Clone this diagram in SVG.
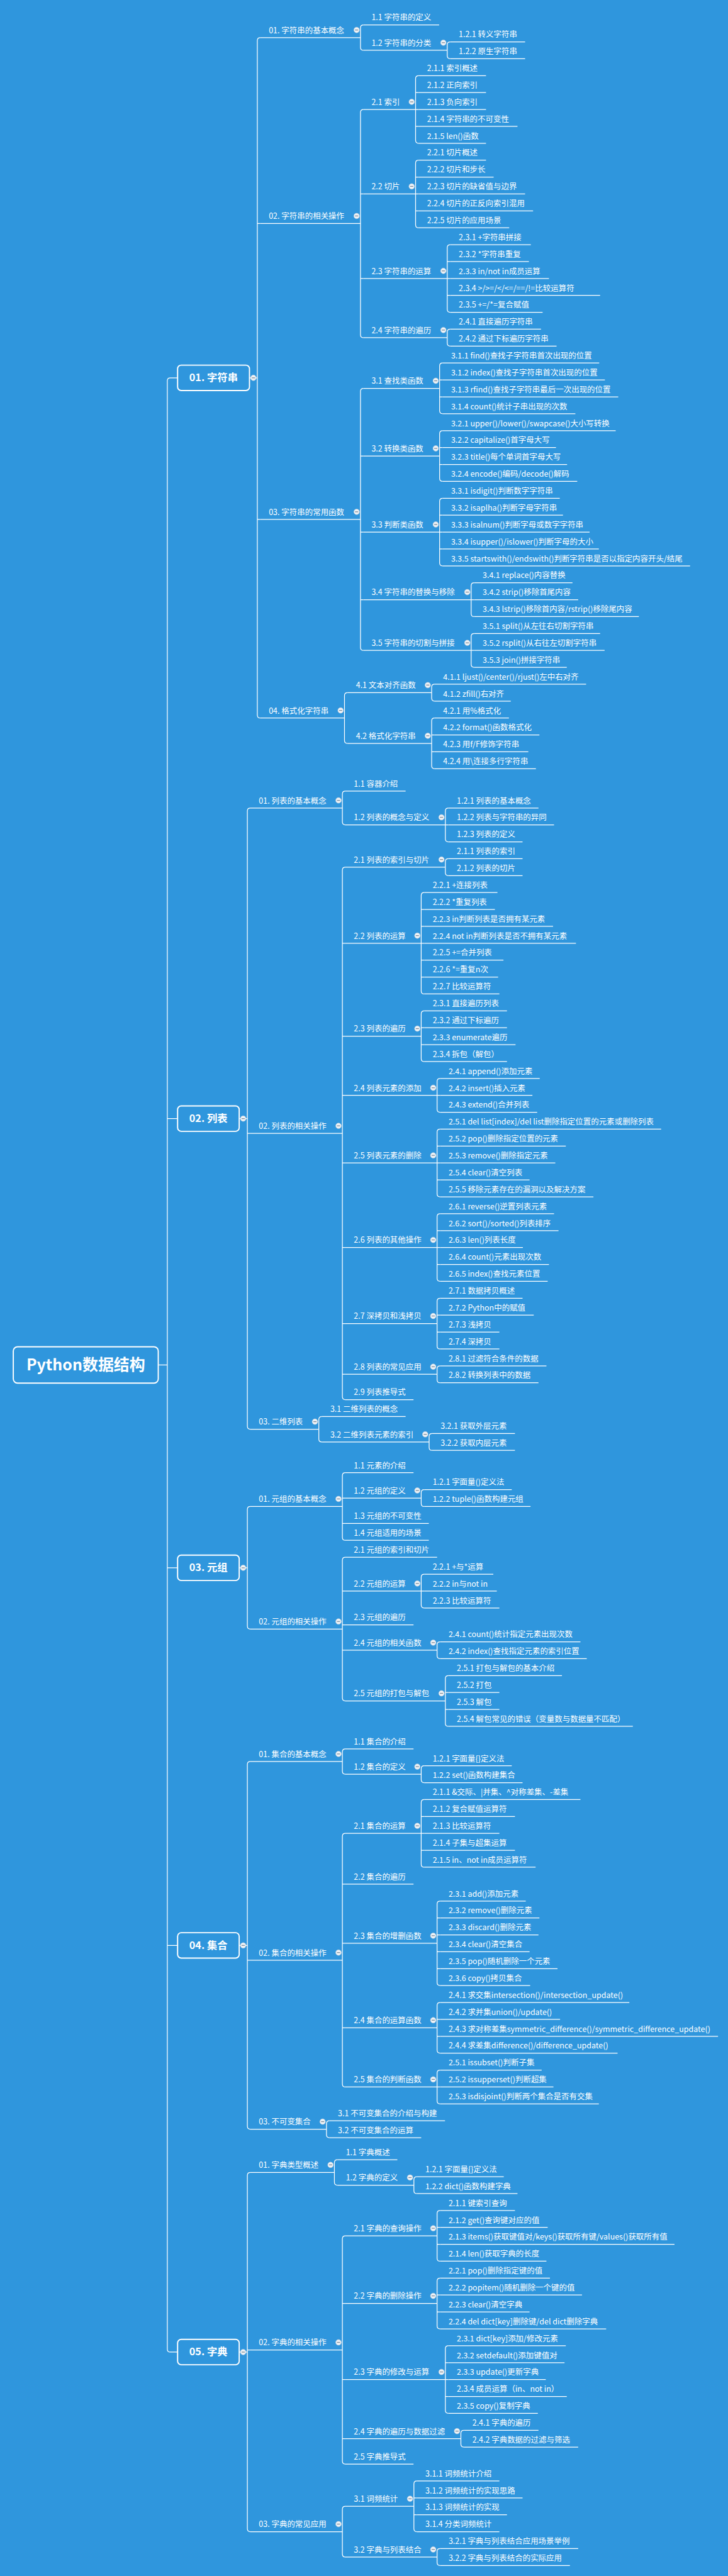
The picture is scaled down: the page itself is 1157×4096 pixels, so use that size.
<svg xmlns="http://www.w3.org/2000/svg" xmlns:xlink="http://www.w3.org/1999/xlink" width="1157" height="4096" viewBox="0 0 1157 4096">
<style>
.t{font-family:"Noto Sans CJK SC","Noto Sans",sans-serif;font-size:13px;fill:#fff}
.b{font-family:"Noto Sans CJK SC","Noto Sans",sans-serif;font-size:17px;font-weight:bold;fill:#fff;text-anchor:middle}
.r{font-family:"Noto Sans CJK SC","Noto Sans",sans-serif;font-size:26px;font-weight:bold;fill:#fff;text-anchor:middle}
.u{stroke:#fff;stroke-width:1.3;fill:none}
.bx{stroke:#fff;stroke-width:2;fill:#2f96dd}
</style>
<defs>
<g id="m"><circle r="4.6" fill="#eef2f6" stroke="#c5d0db" stroke-width="0.6"/><line x1="-2.6" x2="2.6" y1="0" y2="0" stroke="#7d8a97" stroke-width="1.3"/></g>
</defs>
<rect width="1157" height="4096" fill="#2f96dd"/>
<g transform="scale(0.96)">
<g id="connectors" class="u">
<path d="M294,625.8H282Q277,625.8 277,630.8V3890.8Q277,3895.8 282,3895.8H294M277,1852.8H294M277,2596.8H294M277,3222.2H294M262,2260.8H277"/>
<path d="M413,625.8H426M396,1852.8H409.5M396,2596.8H409.5M396,3222.2H409.5M396,3895.8H409.5"/>
<path d="M431,62.3Q426,62.3 426,67.3V1184.3Q426,1189.3 431,1189.3M426,370.3H431M426,860.3H431"/>
<path d="M601.8,41.3Q596.8,41.3 596.8,46.3V78.3Q596.8,83.3 601.8,83.3"/>
<path d="M745.4,69.3Q740.4,69.3 740.4,74.3V92.3Q740.4,97.3 745.4,97.3"/>
<path d="M601.8,181.3Q596.8,181.3 596.8,186.3V554.3Q596.8,559.3 601.8,559.3M596.8,321.3H601.8M596.8,461.3H601.8"/>
<path d="M693,125.3Q688,125.3 688,130.3V232.3Q688,237.3 693,237.3M688,153.3H693M688,181.3H693M688,209.3H693"/>
<path d="M693,265.3Q688,265.3 688,270.3V372.3Q688,377.3 693,377.3M688,293.3H693M688,321.3H693M688,349.3H693"/>
<path d="M745.4,405.3Q740.4,405.3 740.4,410.3V512.3Q740.4,517.3 745.4,517.3M740.4,433.3H745.4M740.4,461.3H745.4M740.4,489.3H745.4"/>
<path d="M745.4,545.3Q740.4,545.3 740.4,550.3V568.3Q740.4,573.3 745.4,573.3"/>
<path d="M601.8,643.3Q596.8,643.3 596.8,648.3V1072.3Q596.8,1077.3 601.8,1077.3M596.8,755.3H601.8M596.8,881.3H601.8M596.8,993.3H601.8"/>
<path d="M732.8,601.3Q727.8,601.3 727.8,606.3V680.3Q727.8,685.3 732.8,685.3M727.8,629.3H732.8M727.8,657.3H732.8"/>
<path d="M732.8,713.3Q727.8,713.3 727.8,718.3V792.3Q727.8,797.3 732.8,797.3M727.8,741.3H732.8M727.8,769.3H732.8"/>
<path d="M732.8,825.3Q727.8,825.3 727.8,830.3V932.3Q727.8,937.3 732.8,937.3M727.8,853.3H732.8M727.8,881.3H732.8M727.8,909.3H732.8"/>
<path d="M785,965.3Q780,965.3 780,970.3V1016.3Q780,1021.3 785,1021.3M780,993.3H785"/>
<path d="M785,1049.3Q780,1049.3 780,1054.3V1100.3Q780,1105.3 785,1105.3M780,1077.3H785"/>
<path d="M575.3,1147.3Q570.3,1147.3 570.3,1152.3V1226.3Q570.3,1231.3 575.3,1231.3"/>
<path d="M719.6,1133.3Q714.6,1133.3 714.6,1138.3V1156.3Q714.6,1161.3 719.6,1161.3"/>
<path d="M719.6,1189.3Q714.6,1189.3 714.6,1194.3V1268.3Q714.6,1273.3 719.6,1273.3M714.6,1217.3H719.6M714.6,1245.3H719.6"/>
<path d="M414.5,1338.3Q409.5,1338.3 409.5,1343.3V2362.3Q409.5,2367.3 414.5,2367.3M409.5,1877.3H414.5"/>
<path d="M571.8,1310.3Q566.8,1310.3 566.8,1315.3V1361.3Q566.8,1366.3 571.8,1366.3"/>
<path d="M742.3,1338.3Q737.3,1338.3 737.3,1343.3V1389.3Q737.3,1394.3 742.3,1394.3M737.3,1366.3H742.3"/>
<path d="M571.8,1436.3Q566.8,1436.3 566.8,1441.3V2313.3Q566.8,2318.3 571.8,2318.3M566.8,1562.3H571.8M566.8,1716.3H571.8M566.8,1814.3H571.8M566.8,1926.3H571.8M566.8,2066.3H571.8M566.8,2192.3H571.8M566.8,2276.3H571.8"/>
<path d="M742.3,1422.3Q737.3,1422.3 737.3,1427.3V1445.3Q737.3,1450.3 742.3,1450.3"/>
<path d="M702.3,1478.3Q697.3,1478.3 697.3,1483.3V1641.3Q697.3,1646.3 702.3,1646.3M697.3,1506.3H702.3M697.3,1534.3H702.3M697.3,1562.3H702.3M697.3,1590.3H702.3M697.3,1618.3H702.3"/>
<path d="M702.3,1674.3Q697.3,1674.3 697.3,1679.3V1753.3Q697.3,1758.3 702.3,1758.3M697.3,1702.3H702.3M697.3,1730.3H702.3"/>
<path d="M728.6,1786.3Q723.6,1786.3 723.6,1791.3V1837.3Q723.6,1842.3 728.6,1842.3M723.6,1814.3H728.6"/>
<path d="M728.6,1870.3Q723.6,1870.3 723.6,1875.3V1977.3Q723.6,1982.3 728.6,1982.3M723.6,1898.3H728.6M723.6,1926.3H728.6M723.6,1954.3H728.6"/>
<path d="M728.6,2010.3Q723.6,2010.3 723.6,2015.3V2117.3Q723.6,2122.3 728.6,2122.3M723.6,2038.3H728.6M723.6,2066.3H728.6M723.6,2094.3H728.6"/>
<path d="M728.6,2150.3Q723.6,2150.3 723.6,2155.3V2229.3Q723.6,2234.3 728.6,2234.3M723.6,2178.3H728.6M723.6,2206.3H728.6"/>
<path d="M728.6,2262.3Q723.6,2262.3 723.6,2267.3V2285.3Q723.6,2290.3 728.6,2290.3"/>
<path d="M532.8,2346.3Q527.8,2346.3 527.8,2351.3V2383.3Q527.8,2388.3 532.8,2388.3"/>
<path d="M715.4,2374.3Q710.4,2374.3 710.4,2379.3V2397.3Q710.4,2402.3 715.4,2402.3"/>
<path d="M414.5,2495.3Q409.5,2495.3 409.5,2500.3V2693.3Q409.5,2698.3 414.5,2698.3"/>
<path d="M571.8,2439.3Q566.8,2439.3 566.8,2444.3V2546.3Q566.8,2551.3 571.8,2551.3M566.8,2481.3H571.8M566.8,2523.3H571.8"/>
<path d="M702.3,2467.3Q697.3,2467.3 697.3,2472.3V2490.3Q697.3,2495.3 702.3,2495.3"/>
<path d="M571.8,2579.3Q566.8,2579.3 566.8,2584.3V2812.3Q566.8,2817.3 571.8,2817.3M566.8,2635.3H571.8M566.8,2691.3H571.8M566.8,2733.3H571.8"/>
<path d="M702.3,2607.3Q697.3,2607.3 697.3,2612.3V2658.3Q697.3,2663.3 702.3,2663.3M697.3,2635.3H702.3"/>
<path d="M728.6,2719.3Q723.6,2719.3 723.6,2724.3V2742.3Q723.6,2747.3 728.6,2747.3"/>
<path d="M742.3,2775.3Q737.3,2775.3 737.3,2780.3V2854.3Q737.3,2859.3 742.3,2859.3M737.3,2803.3H742.3M737.3,2831.3H742.3"/>
<path d="M414.5,2917.7Q409.5,2917.7 409.5,2922.7V3521.7Q409.5,3526.7 414.5,3526.7M409.5,3246.7H414.5"/>
<path d="M571.8,2896.7Q566.8,2896.7 566.8,2901.7V2933.7Q566.8,2938.7 571.8,2938.7"/>
<path d="M702.3,2924.7Q697.3,2924.7 697.3,2929.7V2947.7Q697.3,2952.7 702.3,2952.7"/>
<path d="M571.8,3036.7Q566.8,3036.7 566.8,3041.7V3451.7Q566.8,3456.7 571.8,3456.7M566.8,3120.7H571.8M566.8,3218.7H571.8M566.8,3358.7H571.8"/>
<path d="M702.3,2980.7Q697.3,2980.7 697.3,2985.7V3087.7Q697.3,3092.7 702.3,3092.7M697.3,3008.7H702.3M697.3,3036.7H702.3M697.3,3064.7H702.3"/>
<path d="M728.6,3148.7Q723.6,3148.7 723.6,3153.7V3283.7Q723.6,3288.7 728.6,3288.7M723.6,3176.7H728.6M723.6,3204.7H728.6M723.6,3232.7H728.6M723.6,3260.7H728.6"/>
<path d="M728.6,3316.7Q723.6,3316.7 723.6,3321.7V3395.7Q723.6,3400.7 728.6,3400.7M723.6,3344.7H728.6M723.6,3372.7H728.6"/>
<path d="M728.6,3428.7Q723.6,3428.7 723.6,3433.7V3479.7Q723.6,3484.7 728.6,3484.7M723.6,3456.7H728.6"/>
<path d="M545.5,3512.7Q540.5,3512.7 540.5,3517.7V3535.7Q540.5,3540.7 545.5,3540.7"/>
<path d="M414.5,3598.3Q409.5,3598.3 409.5,3603.3V4188.3Q409.5,4193.3 414.5,4193.3M409.5,3892.3H414.5"/>
<path d="M558.6,3577.3Q553.6,3577.3 553.6,3582.3V3614.3Q553.6,3619.3 558.6,3619.3"/>
<path d="M690.2,3605.3Q685.2,3605.3 685.2,3610.3V3628.3Q685.2,3633.3 690.2,3633.3"/>
<path d="M571.8,3703.3Q566.8,3703.3 566.8,3708.3V4076.3Q566.8,4081.3 571.8,4081.3M566.8,3815.3H571.8M566.8,3941.3H571.8M566.8,4039.3H571.8"/>
<path d="M728.6,3661.3Q723.6,3661.3 723.6,3666.3V3740.3Q723.6,3745.3 728.6,3745.3M723.6,3689.3H728.6M723.6,3717.3H728.6"/>
<path d="M728.6,3773.3Q723.6,3773.3 723.6,3778.3V3852.3Q723.6,3857.3 728.6,3857.3M723.6,3801.3H728.6M723.6,3829.3H728.6"/>
<path d="M742.3,3885.3Q737.3,3885.3 737.3,3890.3V3992.3Q737.3,3997.3 742.3,3997.3M737.3,3913.3H742.3M737.3,3941.3H742.3M737.3,3969.3H742.3"/>
<path d="M768,4025.3Q763,4025.3 763,4030.3V4048.3Q763,4053.3 768,4053.3"/>
<path d="M571.8,4151.3Q566.8,4151.3 566.8,4156.3V4230.3Q566.8,4235.3 571.8,4235.3"/>
<path d="M690.2,4109.3Q685.2,4109.3 685.2,4114.3V4188.3Q685.2,4193.3 690.2,4193.3M685.2,4137.3H690.2M685.2,4165.3H690.2"/>
<path d="M728.6,4221.3Q723.6,4221.3 723.6,4226.3V4244.3Q723.6,4249.3 728.6,4249.3"/>
</g>
<g id="root"><rect class="bx" x="22" y="2230.8" width="240" height="60" rx="7"/><text class="r" x="142" y="2270">Python数据结构</text></g>
<g id="s1"><rect class="bx" x="294" y="604.8" width="119" height="42" rx="6"/><text class="b" x="353.5" y="631.5">01. 字符串</text><use xlink:href="#m" x="419.5" y="625.8"/></g>
<g id="s2"><rect class="bx" x="294" y="1831.8" width="102" height="42" rx="6"/><text class="b" x="345" y="1858.5">02. 列表</text><use xlink:href="#m" x="402.6" y="1852.8"/></g>
<g id="s3"><rect class="bx" x="294" y="2575.8" width="102" height="42" rx="6"/><text class="b" x="345" y="2602.5">03. 元组</text><use xlink:href="#m" x="402.6" y="2596.8"/></g>
<g id="s4"><rect class="bx" x="294" y="3201.2" width="102" height="42" rx="6"/><text class="b" x="345" y="3227.9">04. 集合</text><use xlink:href="#m" x="402.6" y="3222.2"/></g>
<g id="s5"><rect class="bx" x="294" y="3874.8" width="102" height="42" rx="6"/><text class="b" x="345" y="3901.5">05. 字典</text><use xlink:href="#m" x="402.6" y="3895.8"/></g>

<g id="str-01"><text class="t" x="445" y="54.8">01. 字符串的基本概念</text><path class="u" d="M431,62.3H596.8"/><use xlink:href="#m" x="590.4" y="49.7"/></g>
<g id="str-1-1"><text class="t" x="615" y="33.8">1.1 字符串的定义</text><path class="u" d="M601.8,41.3H727"/></g>
<g id="str-1-2"><text class="t" x="615" y="75.8">1.2 字符串的分类</text><path class="u" d="M601.8,83.3H740.4"/><use xlink:href="#m" x="734" y="70.7"/></g>
<g id="str-1-2-1"><text class="t" x="759.4" y="61.8">1.2.1 转义字符串</text><path class="u" d="M745.4,69.3H869.3"/></g>
<g id="str-1-2-2"><text class="t" x="759.4" y="89.8">1.2.2 原生字符串</text><path class="u" d="M745.4,97.3H869.3"/></g>

<g id="str-02"><text class="t" x="445" y="362.8">02. 字符串的相关操作</text><path class="u" d="M431,370.3H596.8"/><use xlink:href="#m" x="590.4" y="357.7"/></g>
<g id="str-2-1"><text class="t" x="615" y="173.8">2.1 索引</text><path class="u" d="M601.8,181.3H688"/><use xlink:href="#m" x="681.6" y="168.7"/></g>
<g id="str-2-1-1"><text class="t" x="707" y="117.8">2.1.1 索引概述</text><path class="u" d="M693,125.3H804.6"/></g>
<g id="str-2-1-2"><text class="t" x="707" y="145.8">2.1.2 正向索引</text><path class="u" d="M693,153.3H804.6"/></g>
<g id="str-2-1-3"><text class="t" x="707" y="173.8">2.1.3 负向索引</text><path class="u" d="M693,181.3H804.6"/></g>
<g id="str-2-1-4"><text class="t" x="707" y="201.8">2.1.4 字符串的不可变性</text><path class="u" d="M693,209.3H856.7"/></g>
<g id="str-2-1-5"><text class="t" x="707" y="229.8">2.1.5 len()函数</text><path class="u" d="M693,237.3H804.6"/></g>
<g id="str-2-2"><text class="t" x="615" y="313.8">2.2 切片</text><path class="u" d="M601.8,321.3H688"/><use xlink:href="#m" x="681.6" y="308.7"/></g>
<g id="str-2-2-1"><text class="t" x="707" y="257.8">2.2.1 切片概述</text><path class="u" d="M693,265.3H804.6"/></g>
<g id="str-2-2-2"><text class="t" x="707" y="285.8">2.2.2 切片和步长</text><path class="u" d="M693,293.3H817.2"/></g>
<g id="str-2-2-3"><text class="t" x="707" y="313.8">2.2.3 切片的缺省值与边界</text><path class="u" d="M693,321.3H869.3"/></g>
<g id="str-2-2-4"><text class="t" x="707" y="341.8">2.2.4 切片的正反向索引混用</text><path class="u" d="M693,349.3H882.5"/></g>
<g id="str-2-2-5"><text class="t" x="707" y="369.8">2.2.5 切片的应用场景</text><path class="u" d="M693,377.3H843"/></g>
<g id="str-2-3"><text class="t" x="615" y="453.8">2.3 字符串的运算</text><path class="u" d="M601.8,461.3H740.4"/><use xlink:href="#m" x="734" y="448.7"/></g>
<g id="str-2-3-1"><text class="t" x="759.4" y="397.8">2.3.1 +字符串拼接</text><path class="u" d="M745.4,405.3H878.8"/></g>
<g id="str-2-3-2"><text class="t" x="759.4" y="425.8">2.3.2 *字符串重复</text><path class="u" d="M745.4,433.3H875.6"/></g>
<g id="str-2-3-3"><text class="t" x="759.4" y="453.8">2.3.3 in/not in成员运算</text><path class="u" d="M745.4,461.3H908.8"/></g>
<g id="str-2-3-4"><text class="t" x="759.4" y="481.8">2.3.4 &gt;/&gt;=/&lt;/&lt;=/==/!=比较运算符</text><path class="u" d="M745.4,489.3H993.5"/></g>
<g id="str-2-3-5"><text class="t" x="759.4" y="509.8">2.3.5 +=/*=复合赋值</text><path class="u" d="M745.4,517.3H898.3"/></g>
<g id="str-2-4"><text class="t" x="615" y="551.8">2.4 字符串的遍历</text><path class="u" d="M601.8,559.3H740.4"/><use xlink:href="#m" x="734" y="546.7"/></g>
<g id="str-2-4-1"><text class="t" x="759.4" y="537.8">2.4.1 直接遍历字符串</text><path class="u" d="M745.4,545.3H895.6"/></g>
<g id="str-2-4-2"><text class="t" x="759.4" y="565.8">2.4.2 通过下标遍历字符串</text><path class="u" d="M745.4,573.3H921.4"/></g>

<g id="str-03"><text class="t" x="445" y="852.8">03. 字符串的常用函数</text><path class="u" d="M431,860.3H596.8"/><use xlink:href="#m" x="590.4" y="847.7"/></g>
<g id="str-3-1"><text class="t" x="615" y="635.8">3.1 查找类函数</text><path class="u" d="M601.8,643.3H727.8"/><use xlink:href="#m" x="721.4" y="630.7"/></g>
<g id="str-3-1-1"><text class="t" x="746.8" y="593.8">3.1.1 find()查找子字符串首次出现的位置</text><path class="u" d="M732.8,601.3H992"/></g>
<g id="str-3-1-2"><text class="t" x="746.8" y="621.8">3.1.2 index()查找子字符串首次出现的位置</text><path class="u" d="M732.8,629.3H1001.4"/></g>
<g id="str-3-1-3"><text class="t" x="746.8" y="649.8">3.1.3 rfind()查找子字符串最后一次出现的位置</text><path class="u" d="M732.8,657.3H1023.5"/></g>
<g id="str-3-1-4"><text class="t" x="746.8" y="677.8">3.1.4 count()统计子串出现的次数</text><path class="u" d="M732.8,685.3H952.5"/></g>
<g id="str-3-2"><text class="t" x="615" y="747.8">3.2 转换类函数</text><path class="u" d="M601.8,755.3H727.8"/><use xlink:href="#m" x="721.4" y="742.7"/></g>
<g id="str-3-2-1"><text class="t" x="746.8" y="705.8">3.2.1 upper()/lower()/swapcase()大小写转换</text><path class="u" d="M732.8,713.3H1019.3"/></g>
<g id="str-3-2-2"><text class="t" x="746.8" y="733.8">3.2.2 capitalize()首字母大写</text><path class="u" d="M732.8,741.3H920.4"/></g>
<g id="str-3-2-3"><text class="t" x="746.8" y="761.8">3.2.3 title()每个单词首字母大写</text><path class="u" d="M732.8,769.3H938.8"/></g>
<g id="str-3-2-4"><text class="t" x="746.8" y="789.8">3.2.4 encode()编码/decode()解码</text><path class="u" d="M732.8,797.3H955.6"/></g>
<g id="str-3-3"><text class="t" x="615" y="873.8">3.3 判断类函数</text><path class="u" d="M601.8,881.3H727.8"/><use xlink:href="#m" x="721.4" y="868.7"/></g>
<g id="str-3-3-1"><text class="t" x="746.8" y="817.8">3.3.1 isdigit()判断数字字符串</text><path class="u" d="M732.8,825.3H926.7"/></g>
<g id="str-3-3-2"><text class="t" x="746.8" y="845.8">3.3.2 isaplha()判断字母字符串</text><path class="u" d="M732.8,853.3H932"/></g>
<g id="str-3-3-3"><text class="t" x="746.8" y="873.8">3.3.3 isalnum()判断字母或数字字符串</text><path class="u" d="M732.8,881.3H976.1"/></g>
<g id="str-3-3-4"><text class="t" x="746.8" y="901.8">3.3.4 isupper()/islower()判断字母的大小</text><path class="u" d="M732.8,909.3H991.4"/></g>
<g id="str-3-3-5"><text class="t" x="746.8" y="929.8">3.3.5 startswith()/endswith()判断字符串是否以指定内容开头/结尾</text><path class="u" d="M732.8,937.3H1142.4"/></g>
<g id="str-3-4"><text class="t" x="615" y="985.8">3.4 字符串的替换与移除</text><path class="u" d="M601.8,993.3H780"/><use xlink:href="#m" x="773.6" y="980.7"/></g>
<g id="str-3-4-1"><text class="t" x="799" y="957.8">3.4.1 replace()内容替换</text><path class="u" d="M785,965.3H947.7"/></g>
<g id="str-3-4-2"><text class="t" x="799" y="985.8">3.4.2 strip()移除首尾内容</text><path class="u" d="M785,993.3H957.2"/></g>
<g id="str-3-4-3"><text class="t" x="799" y="1013.8">3.4.3 lstrip()移除首内容/rstrip()移除尾内容</text><path class="u" d="M785,1021.3H1057.7"/></g>
<g id="str-3-5"><text class="t" x="615" y="1069.8">3.5 字符串的切割与拼接</text><path class="u" d="M601.8,1077.3H780"/><use xlink:href="#m" x="773.6" y="1064.7"/></g>
<g id="str-3-5-1"><text class="t" x="799" y="1041.8">3.5.1 split()从左往右切割字符串</text><path class="u" d="M785,1049.3H993.5"/></g>
<g id="str-3-5-2"><text class="t" x="799" y="1069.8">3.5.2 rsplit()从右往左切割字符串</text><path class="u" d="M785,1077.3H1000.9"/></g>
<g id="str-3-5-3"><text class="t" x="799" y="1097.8">3.5.3 join()拼接字符串</text><path class="u" d="M785,1105.3H938.3"/></g>

<g id="str-04"><text class="t" x="445" y="1181.8">04. 格式化字符串</text><path class="u" d="M431,1189.3H570.3"/><use xlink:href="#m" x="563.9" y="1176.7"/></g>
<g id="str-4-1"><text class="t" x="589.3" y="1139.8">4.1 文本对齐函数</text><path class="u" d="M575.3,1147.3H714.6"/><use xlink:href="#m" x="708.2" y="1134.7"/></g>
<g id="str-4-1-1"><text class="t" x="733.6" y="1125.8">4.1.1 ljust()/center()/rjust()左中右对齐</text><path class="u" d="M719.6,1133.3H970.3"/></g>
<g id="str-4-1-2"><text class="t" x="733.6" y="1153.8">4.1.2 zfill()右对齐</text><path class="u" d="M719.6,1161.3H845.6"/></g>
<g id="str-4-2"><text class="t" x="589.3" y="1223.8">4.2 格式化字符串</text><path class="u" d="M575.3,1231.3H714.6"/><use xlink:href="#m" x="708.2" y="1218.7"/></g>
<g id="str-4-2-1"><text class="t" x="733.6" y="1181.8">4.2.1 用%格式化</text><path class="u" d="M719.6,1189.3H842.5"/></g>
<g id="str-4-2-2"><text class="t" x="733.6" y="1209.8">4.2.2 format()函数格式化</text><path class="u" d="M719.6,1217.3H893"/></g>
<g id="str-4-2-3"><text class="t" x="733.6" y="1237.8">4.2.3 用f/F修饰字符串</text><path class="u" d="M719.6,1245.3H874.6"/></g>
<g id="str-4-2-4"><text class="t" x="733.6" y="1265.8">4.2.4 用\连接多行字符串</text><path class="u" d="M719.6,1273.3H887.2"/></g>

<g id="lst-01"><text class="t" x="428.5" y="1330.8">01. 列表的基本概念</text><path class="u" d="M414.5,1338.3H566.8"/><use xlink:href="#m" x="560.4" y="1325.7"/></g>
<g id="lst-1-1"><text class="t" x="585.8" y="1302.8">1.1 容器介绍</text><path class="u" d="M571.8,1310.3H671.5"/></g>
<g id="lst-1-2"><text class="t" x="585.8" y="1358.8">1.2 列表的概念与定义</text><path class="u" d="M571.8,1366.3H737.3"/><use xlink:href="#m" x="730.9" y="1353.7"/></g>
<g id="lst-1-2-1"><text class="t" x="756.3" y="1330.8">1.2.1 列表的基本概念</text><path class="u" d="M742.3,1338.3H891.4"/></g>
<g id="lst-1-2-2"><text class="t" x="756.3" y="1358.8">1.2.2 列表与字符串的异同</text><path class="u" d="M742.3,1366.3H917.2"/></g>
<g id="lst-1-2-3"><text class="t" x="756.3" y="1386.8">1.2.3 列表的定义</text><path class="u" d="M742.3,1394.3H865.1"/></g>

<g id="lst-02"><text class="t" x="428.5" y="1869.8">02. 列表的相关操作</text><path class="u" d="M414.5,1877.3H566.8"/><use xlink:href="#m" x="560.4" y="1864.7"/></g>
<g id="lst-2-1"><text class="t" x="585.8" y="1428.8">2.1 列表的索引与切片</text><path class="u" d="M571.8,1436.3H737.3"/><use xlink:href="#m" x="730.9" y="1423.7"/></g>
<g id="lst-2-1-1"><text class="t" x="756.3" y="1414.8">2.1.1 列表的索引</text><path class="u" d="M742.3,1422.3H865.1"/></g>
<g id="lst-2-1-2"><text class="t" x="756.3" y="1442.8">2.1.2 列表的切片</text><path class="u" d="M742.3,1450.3H865.1"/></g>
<g id="lst-2-2"><text class="t" x="585.8" y="1554.8">2.2 列表的运算</text><path class="u" d="M571.8,1562.3H697.3"/><use xlink:href="#m" x="690.9" y="1549.7"/></g>
<g id="lst-2-2-1"><text class="t" x="716.3" y="1470.8">2.2.1 +连接列表</text><path class="u" d="M702.3,1478.3H823.5"/></g>
<g id="lst-2-2-2"><text class="t" x="716.3" y="1498.8">2.2.2 *重复列表</text><path class="u" d="M702.3,1506.3H819.3"/></g>
<g id="lst-2-2-3"><text class="t" x="716.3" y="1526.8">2.2.3 in判断列表是否拥有某元素</text><path class="u" d="M702.3,1534.3H915.6"/></g>
<g id="lst-2-2-4"><text class="t" x="716.3" y="1554.8">2.2.4 not in判断列表是否不拥有某元素</text><path class="u" d="M702.3,1562.3H953.5"/></g>
<g id="lst-2-2-5"><text class="t" x="716.3" y="1582.8">2.2.5 +=合并列表</text><path class="u" d="M702.3,1590.3H833.5"/></g>
<g id="lst-2-2-6"><text class="t" x="716.3" y="1610.8">2.2.6 *=重复n次</text><path class="u" d="M702.3,1618.3H824.6"/></g>
<g id="lst-2-2-7"><text class="t" x="716.3" y="1638.8">2.2.7 比较运算符</text><path class="u" d="M702.3,1646.3H826.7"/></g>
<g id="lst-2-3"><text class="t" x="585.8" y="1708.8">2.3 列表的遍历</text><path class="u" d="M571.8,1716.3H697.3"/><use xlink:href="#m" x="690.9" y="1703.7"/></g>
<g id="lst-2-3-1"><text class="t" x="716.3" y="1666.8">2.3.1 直接遍历列表</text><path class="u" d="M702.3,1674.3H839.3"/></g>
<g id="lst-2-3-2"><text class="t" x="716.3" y="1694.8">2.3.2 通过下标遍历</text><path class="u" d="M702.3,1702.3H839.3"/></g>
<g id="lst-2-3-3"><text class="t" x="716.3" y="1722.8">2.3.3 enumerate遍历</text><path class="u" d="M702.3,1730.3H853.5"/></g>
<g id="lst-2-3-4"><text class="t" x="716.3" y="1750.8">2.3.4 拆包（解包）</text><path class="u" d="M702.3,1758.3H839.3"/></g>
<g id="lst-2-4"><text class="t" x="585.8" y="1806.8">2.4 列表元素的添加</text><path class="u" d="M571.8,1814.3H723.6"/><use xlink:href="#m" x="717.2" y="1801.7"/></g>
<g id="lst-2-4-1"><text class="t" x="742.6" y="1778.8">2.4.1 append()添加元素</text><path class="u" d="M728.6,1786.3H893.5"/></g>
<g id="lst-2-4-2"><text class="t" x="742.6" y="1806.8">2.4.2 insert()插入元素</text><path class="u" d="M728.6,1814.3H881.4"/></g>
<g id="lst-2-4-3"><text class="t" x="742.6" y="1834.8">2.4.3 extend()合并列表</text><path class="u" d="M728.6,1842.3H889.3"/></g>
<g id="lst-2-5"><text class="t" x="585.8" y="1918.8">2.5 列表元素的删除</text><path class="u" d="M571.8,1926.3H723.6"/><use xlink:href="#m" x="717.2" y="1913.7"/></g>
<g id="lst-2-5-1"><text class="t" x="742.6" y="1862.8">2.5.1 del list[index]/del list删除指定位置的元素或删除列表</text><path class="u" d="M728.6,1870.3H1094.5"/></g>
<g id="lst-2-5-2"><text class="t" x="742.6" y="1890.8">2.5.2 pop()删除指定位置的元素</text><path class="u" d="M728.6,1898.3H936.7"/></g>
<g id="lst-2-5-3"><text class="t" x="742.6" y="1918.8">2.5.3 remove()删除指定元素</text><path class="u" d="M728.6,1926.3H919.3"/></g>
<g id="lst-2-5-4"><text class="t" x="742.6" y="1946.8">2.5.4 clear()清空列表</text><path class="u" d="M728.6,1954.3H876.7"/></g>
<g id="lst-2-5-5"><text class="t" x="742.6" y="1974.8">2.5.5 移除元素存在的漏洞以及解决方案</text><path class="u" d="M728.6,1982.3H982.4"/></g>
<g id="lst-2-6"><text class="t" x="585.8" y="2058.8">2.6 列表的其他操作</text><path class="u" d="M571.8,2066.3H723.6"/><use xlink:href="#m" x="717.2" y="2053.7"/></g>
<g id="lst-2-6-1"><text class="t" x="742.6" y="2002.8">2.6.1 reverse()逆置列表元素</text><path class="u" d="M728.6,2010.3H917.2"/></g>
<g id="lst-2-6-2"><text class="t" x="742.6" y="2030.8">2.6.2 sort()/sorted()列表排序</text><path class="u" d="M728.6,2038.3H924.6"/></g>
<g id="lst-2-6-3"><text class="t" x="742.6" y="2058.8">2.6.3 len()列表长度</text><path class="u" d="M728.6,2066.3H865.6"/></g>
<g id="lst-2-6-4"><text class="t" x="742.6" y="2086.8">2.6.4 count()元素出现次数</text><path class="u" d="M728.6,2094.3H908.8"/></g>
<g id="lst-2-6-5"><text class="t" x="742.6" y="2114.8">2.6.5 index()查找元素位置</text><path class="u" d="M728.6,2122.3H906.7"/></g>
<g id="lst-2-7"><text class="t" x="585.8" y="2184.8">2.7 深拷贝和浅拷贝</text><path class="u" d="M571.8,2192.3H723.6"/><use xlink:href="#m" x="717.2" y="2179.7"/></g>
<g id="lst-2-7-1"><text class="t" x="742.6" y="2142.8">2.7.1 数据拷贝概述</text><path class="u" d="M728.6,2150.3H865.1"/></g>
<g id="lst-2-7-2"><text class="t" x="742.6" y="2170.8">2.7.2 Python中的赋值</text><path class="u" d="M728.6,2178.3H883.6"/></g>
<g id="lst-2-7-3"><text class="t" x="742.6" y="2198.8">2.7.3 浅拷贝</text><path class="u" d="M728.6,2206.3H826.7"/></g>
<g id="lst-2-7-4"><text class="t" x="742.6" y="2226.8">2.7.4 深拷贝</text><path class="u" d="M728.6,2234.3H826.7"/></g>
<g id="lst-2-8"><text class="t" x="585.8" y="2268.8">2.8 列表的常见应用</text><path class="u" d="M571.8,2276.3H723.6"/><use xlink:href="#m" x="717.2" y="2263.7"/></g>
<g id="lst-2-8-1"><text class="t" x="742.6" y="2254.8">2.8.1 过滤符合条件的数据</text><path class="u" d="M728.6,2262.3H904.6"/></g>
<g id="lst-2-8-2"><text class="t" x="742.6" y="2282.8">2.8.2 转换列表中的数据</text><path class="u" d="M728.6,2290.3H891.4"/></g>
<g id="lst-2-9"><text class="t" x="585.8" y="2310.8">2.9 列表推导式</text><path class="u" d="M571.8,2318.3H684.6"/></g>

<g id="lst-03"><text class="t" x="428.5" y="2359.8">03. 二维列表</text><path class="u" d="M414.5,2367.3H527.8"/><use xlink:href="#m" x="521.4" y="2354.7"/></g>
<g id="lst-3-1"><text class="t" x="546.8" y="2338.8">3.1 二维列表的概念</text><path class="u" d="M532.8,2346.3H671.5"/></g>
<g id="lst-3-2"><text class="t" x="546.8" y="2380.8">3.2 二维列表元素的索引</text><path class="u" d="M532.8,2388.3H710.4"/><use xlink:href="#m" x="704" y="2375.7"/></g>
<g id="lst-3-2-1"><text class="t" x="729.4" y="2366.8">3.2.1 获取外层元素</text><path class="u" d="M715.4,2374.3H852.5"/></g>
<g id="lst-3-2-2"><text class="t" x="729.4" y="2394.8">3.2.2 获取内层元素</text><path class="u" d="M715.4,2402.3H852.5"/></g>

<g id="tup-01"><text class="t" x="428.5" y="2487.8">01. 元组的基本概念</text><path class="u" d="M414.5,2495.3H566.8"/><use xlink:href="#m" x="560.4" y="2482.7"/></g>
<g id="tup-1-1"><text class="t" x="585.8" y="2431.8">1.1 元素的介绍</text><path class="u" d="M571.8,2439.3H684.6"/></g>
<g id="tup-1-2"><text class="t" x="585.8" y="2473.8">1.2 元组的定义</text><path class="u" d="M571.8,2481.3H697.3"/><use xlink:href="#m" x="690.9" y="2468.7"/></g>
<g id="tup-1-2-1"><text class="t" x="716.3" y="2459.8">1.2.1 字面量()定义法</text><path class="u" d="M702.3,2467.3H847.2"/></g>
<g id="tup-1-2-2"><text class="t" x="716.3" y="2487.8">1.2.2 tuple()函数构建元组</text><path class="u" d="M702.3,2495.3H878.3"/></g>
<g id="tup-1-3"><text class="t" x="585.8" y="2515.8">1.3 元组的不可变性</text><path class="u" d="M571.8,2523.3H709.9"/></g>
<g id="tup-1-4"><text class="t" x="585.8" y="2543.8">1.4 元组适用的场景</text><path class="u" d="M571.8,2551.3H709.9"/></g>
<g id="tup-02"><text class="t" x="428.5" y="2690.8">02. 元组的相关操作</text><path class="u" d="M414.5,2698.3H566.8"/><use xlink:href="#m" x="560.4" y="2685.7"/></g>
<g id="tup-2-1"><text class="t" x="585.8" y="2571.8">2.1 元组的索引和切片</text><path class="u" d="M571.8,2579.3H723.6"/></g>
<g id="tup-2-2"><text class="t" x="585.8" y="2627.8">2.2 元组的运算</text><path class="u" d="M571.8,2635.3H697.3"/><use xlink:href="#m" x="690.9" y="2622.7"/></g>
<g id="tup-2-2-1"><text class="t" x="716.3" y="2599.8">2.2.1 +与*运算</text><path class="u" d="M702.3,2607.3H816.7"/></g>
<g id="tup-2-2-2"><text class="t" x="716.3" y="2627.8">2.2.2 in与not in</text><path class="u" d="M702.3,2635.3H822.5"/></g>
<g id="tup-2-2-3"><text class="t" x="716.3" y="2655.8">2.2.3 比较运算符</text><path class="u" d="M702.3,2663.3H826.7"/></g>
<g id="tup-2-3"><text class="t" x="585.8" y="2683.8">2.3 元组的遍历</text><path class="u" d="M571.8,2691.3H684.6"/></g>
<g id="tup-2-4"><text class="t" x="585.8" y="2725.8">2.4 元组的相关函数</text><path class="u" d="M571.8,2733.3H723.6"/><use xlink:href="#m" x="717.2" y="2720.7"/></g>
<g id="tup-2-4-1"><text class="t" x="742.6" y="2711.8">2.4.1 count()统计指定元素出现次数</text><path class="u" d="M728.6,2719.3H960.9"/></g>
<g id="tup-2-4-2"><text class="t" x="742.6" y="2739.8">2.4.2 index()查找指定元素的索引位置</text><path class="u" d="M728.6,2747.3H971.4"/></g>
<g id="tup-2-5"><text class="t" x="585.8" y="2809.8">2.5 元组的打包与解包</text><path class="u" d="M571.8,2817.3H737.3"/><use xlink:href="#m" x="730.9" y="2804.7"/></g>
<g id="tup-2-5-1"><text class="t" x="756.3" y="2767.8">2.5.1 打包与解包的基本介绍</text><path class="u" d="M742.3,2775.3H930.3"/></g>
<g id="tup-2-5-2"><text class="t" x="756.3" y="2795.8">2.5.2 打包</text><path class="u" d="M742.3,2803.3H826.7"/></g>
<g id="tup-2-5-3"><text class="t" x="756.3" y="2823.8">2.5.3 解包</text><path class="u" d="M742.3,2831.3H826.7"/></g>
<g id="tup-2-5-4"><text class="t" x="756.3" y="2851.8">2.5.4 解包常见的错误（变量数与数据量不匹配）</text><path class="u" d="M742.3,2859.3H1047.7"/></g>

<g id="set-01"><text class="t" x="428.5" y="2910.2">01. 集合的基本概念</text><path class="u" d="M414.5,2917.7H566.8"/><use xlink:href="#m" x="560.4" y="2905.1"/></g>
<g id="set-1-1"><text class="t" x="585.8" y="2889.2">1.1 集合的介绍</text><path class="u" d="M571.8,2896.7H684.6"/></g>
<g id="set-1-2"><text class="t" x="585.8" y="2931.2">1.2 集合的定义</text><path class="u" d="M571.8,2938.7H697.3"/><use xlink:href="#m" x="690.9" y="2926.1"/></g>
<g id="set-1-2-1"><text class="t" x="716.3" y="2917.2">1.2.1 字面量{}定义法</text><path class="u" d="M702.3,2924.7H847.2"/></g>
<g id="set-1-2-2"><text class="t" x="716.3" y="2945.2">1.2.2 set()函数构建集合</text><path class="u" d="M702.3,2952.7H865.1"/></g>
<g id="set-02"><text class="t" x="428.5" y="3239.2">02. 集合的相关操作</text><path class="u" d="M414.5,3246.7H566.8"/><use xlink:href="#m" x="560.4" y="3234.1"/></g>
<g id="set-2-1"><text class="t" x="585.8" y="3029.2">2.1 集合的运算</text><path class="u" d="M571.8,3036.7H697.3"/><use xlink:href="#m" x="690.9" y="3024.1"/></g>
<g id="set-2-1-1"><text class="t" x="716.3" y="2973.2">2.1.1 &amp;交际、|并集、^对称差集、-差集</text><path class="u" d="M702.3,2980.7H960.9"/></g>
<g id="set-2-1-2"><text class="t" x="716.3" y="3001.2">2.1.2 复合赋值运算符</text><path class="u" d="M702.3,3008.7H852.5"/></g>
<g id="set-2-1-3"><text class="t" x="716.3" y="3029.2">2.1.3 比较运算符</text><path class="u" d="M702.3,3036.7H826.7"/></g>
<g id="set-2-1-4"><text class="t" x="716.3" y="3057.2">2.1.4 子集与超集运算</text><path class="u" d="M702.3,3064.7H852.5"/></g>
<g id="set-2-1-5"><text class="t" x="716.3" y="3085.2">2.1.5 in、not in成员运算符</text><path class="u" d="M702.3,3092.7H886.7"/></g>
<g id="set-2-2"><text class="t" x="585.8" y="3113.2">2.2 集合的遍历</text><path class="u" d="M571.8,3120.7H684.6"/></g>
<g id="set-2-3"><text class="t" x="585.8" y="3211.2">2.3 集合的增删函数</text><path class="u" d="M571.8,3218.7H723.6"/><use xlink:href="#m" x="717.2" y="3206.1"/></g>
<g id="set-2-3-1"><text class="t" x="742.6" y="3141.2">2.3.1 add()添加元素</text><path class="u" d="M728.6,3148.7H870.4"/></g>
<g id="set-2-3-2"><text class="t" x="742.6" y="3169.2">2.3.2 remove()删除元素</text><path class="u" d="M728.6,3176.7H893"/></g>
<g id="set-2-3-3"><text class="t" x="742.6" y="3197.2">2.3.3 discard()删除元素</text><path class="u" d="M728.6,3204.7H891.4"/></g>
<g id="set-2-3-4"><text class="t" x="742.6" y="3225.2">2.3.4 clear()清空集合</text><path class="u" d="M728.6,3232.7H876.7"/></g>
<g id="set-2-3-5"><text class="t" x="742.6" y="3253.2">2.3.5 pop()随机删除一个元素</text><path class="u" d="M728.6,3260.7H923"/></g>
<g id="set-2-3-6"><text class="t" x="742.6" y="3281.2">2.3.6 copy()拷贝集合</text><path class="u" d="M728.6,3288.7H877.7"/></g>
<g id="set-2-4"><text class="t" x="585.8" y="3351.2">2.4 集合的运算函数</text><path class="u" d="M571.8,3358.7H723.6"/><use xlink:href="#m" x="717.2" y="3346.1"/></g>
<g id="set-2-4-1"><text class="t" x="742.6" y="3309.2">2.4.1 求交集intersection()/intersection_update()</text><path class="u" d="M728.6,3316.7H1041.9"/></g>
<g id="set-2-4-2"><text class="t" x="742.6" y="3337.2">2.4.2 求并集union()/update()</text><path class="u" d="M728.6,3344.7H927.2"/></g>
<g id="set-2-4-3"><text class="t" x="742.6" y="3365.2">2.4.3 求对称差集symmetric_difference()/symmetric_difference_update()</text><path class="u" d="M728.6,3372.7H1188.7"/></g>
<g id="set-2-4-4"><text class="t" x="742.6" y="3393.2">2.4.4 求差集difference()/difference_update()</text><path class="u" d="M728.6,3400.7H1022.4"/></g>
<g id="set-2-5"><text class="t" x="585.8" y="3449.2">2.5 集合的判断函数</text><path class="u" d="M571.8,3456.7H723.6"/><use xlink:href="#m" x="717.2" y="3444.1"/></g>
<g id="set-2-5-1"><text class="t" x="742.6" y="3421.2">2.5.1 issubset()判断子集</text><path class="u" d="M728.6,3428.7H896.7"/></g>
<g id="set-2-5-2"><text class="t" x="742.6" y="3449.2">2.5.2 issupperset()判断超集</text><path class="u" d="M728.6,3456.7H916.2"/></g>
<g id="set-2-5-3"><text class="t" x="742.6" y="3477.2">2.5.3 isdisjoint()判断两个集合是否有交集</text><path class="u" d="M728.6,3484.7H991.4"/></g>
<g id="set-03"><text class="t" x="428.5" y="3519.2">03. 不可变集合</text><path class="u" d="M414.5,3526.7H540.5"/><use xlink:href="#m" x="534.1" y="3514.1"/></g>
<g id="set-3-1"><text class="t" x="559.5" y="3505.2">3.1 不可变集合的介绍与构建</text><path class="u" d="M545.5,3512.7H736.7"/></g>
<g id="set-3-2"><text class="t" x="559.5" y="3533.2">3.2 不可变集合的运算</text><path class="u" d="M545.5,3540.7H697.3"/></g>

<g id="dic-01"><text class="t" x="428.5" y="3590.8">01. 字典类型概述</text><path class="u" d="M414.5,3598.3H553.6"/><use xlink:href="#m" x="547.2" y="3585.7"/></g>
<g id="dic-1-1"><text class="t" x="572.6" y="3569.8">1.1 字典概述</text><path class="u" d="M558.6,3577.3H657.8"/></g>
<g id="dic-1-2"><text class="t" x="572.6" y="3611.8">1.2 字典的定义</text><path class="u" d="M558.6,3619.3H685.2"/><use xlink:href="#m" x="678.8" y="3606.7"/></g>
<g id="dic-1-2-1"><text class="t" x="704.2" y="3597.8">1.2.1 字面量{}定义法</text><path class="u" d="M690.2,3605.3H834"/></g>
<g id="dic-1-2-2"><text class="t" x="704.2" y="3625.8">1.2.2 dict()函数构建字典</text><path class="u" d="M690.2,3633.3H856.7"/></g>
<g id="dic-02"><text class="t" x="428.5" y="3884.8">02. 字典的相关操作</text><path class="u" d="M414.5,3892.3H566.8"/><use xlink:href="#m" x="560.4" y="3879.7"/></g>
<g id="dic-2-1"><text class="t" x="585.8" y="3695.8">2.1 字典的查询操作</text><path class="u" d="M571.8,3703.3H723.6"/><use xlink:href="#m" x="717.2" y="3690.7"/></g>
<g id="dic-2-1-1"><text class="t" x="742.6" y="3653.8">2.1.1 键索引查询</text><path class="u" d="M728.6,3661.3H852.5"/></g>
<g id="dic-2-1-2"><text class="t" x="742.6" y="3681.8">2.1.2 get()查询键对应的值</text><path class="u" d="M728.6,3689.3H906.7"/></g>
<g id="dic-2-1-3"><text class="t" x="742.6" y="3709.8">2.1.3 items()获取键值对/keys()获取所有键/values()获取所有值</text><path class="u" d="M728.6,3717.3H1116.6"/></g>
<g id="dic-2-1-4"><text class="t" x="742.6" y="3737.8">2.1.4 len()获取字典的长度</text><path class="u" d="M728.6,3745.3H904.6"/></g>
<g id="dic-2-2"><text class="t" x="585.8" y="3807.8">2.2 字典的删除操作</text><path class="u" d="M571.8,3815.3H723.6"/><use xlink:href="#m" x="717.2" y="3802.7"/></g>
<g id="dic-2-2-1"><text class="t" x="742.6" y="3765.8">2.2.1 pop()删除指定键的值</text><path class="u" d="M728.6,3773.3H910.4"/></g>
<g id="dic-2-2-2"><text class="t" x="742.6" y="3793.8">2.2.2 popitem()随机删除一个键的值</text><path class="u" d="M728.6,3801.3H963.5"/></g>
<g id="dic-2-2-3"><text class="t" x="742.6" y="3821.8">2.2.3 clear()清空字典</text><path class="u" d="M728.6,3829.3H876.7"/></g>
<g id="dic-2-2-4"><text class="t" x="742.6" y="3849.8">2.2.4 del dict[key]删除键/del dict删除字典</text><path class="u" d="M728.6,3857.3H1003.5"/></g>
<g id="dic-2-3"><text class="t" x="585.8" y="3933.8">2.3 字典的修改与运算</text><path class="u" d="M571.8,3941.3H737.3"/><use xlink:href="#m" x="730.9" y="3928.7"/></g>
<g id="dic-2-3-1"><text class="t" x="756.3" y="3877.8">2.3.1 dict[key]添加/修改元素</text><path class="u" d="M742.3,3885.3H936.7"/></g>
<g id="dic-2-3-2"><text class="t" x="756.3" y="3905.8">2.3.2 setdefault()添加键值对</text><path class="u" d="M742.3,3913.3H934.6"/></g>
<g id="dic-2-3-3"><text class="t" x="756.3" y="3933.8">2.3.3 update()更新字典</text><path class="u" d="M742.3,3941.3H903.5"/></g>
<g id="dic-2-3-4"><text class="t" x="756.3" y="3961.8">2.3.4 成员运算（in、not in）</text><path class="u" d="M742.3,3969.3H938.3"/></g>
<g id="dic-2-3-5"><text class="t" x="756.3" y="3989.8">2.3.5 copy()复制字典</text><path class="u" d="M742.3,3997.3H890.4"/></g>
<g id="dic-2-4"><text class="t" x="585.8" y="4031.8">2.4 字典的遍历与数据过滤</text><path class="u" d="M571.8,4039.3H763"/><use xlink:href="#m" x="756.6" y="4026.7"/></g>
<g id="dic-2-4-1"><text class="t" x="782" y="4017.8">2.4.1 字典的遍历</text><path class="u" d="M768,4025.3H891.4"/></g>
<g id="dic-2-4-2"><text class="t" x="782" y="4045.8">2.4.2 字典数据的过滤与筛选</text><path class="u" d="M768,4053.3H957.2"/></g>
<g id="dic-2-5"><text class="t" x="585.8" y="4073.8">2.5 字典推导式</text><path class="u" d="M571.8,4081.3H684.6"/></g>
<g id="dic-03"><text class="t" x="428.5" y="4185.8">03. 字典的常见应用</text><path class="u" d="M414.5,4193.3H566.8"/><use xlink:href="#m" x="560.4" y="4180.7"/></g>
<g id="dic-3-1"><text class="t" x="585.8" y="4143.8">3.1 词频统计</text><path class="u" d="M571.8,4151.3H685.2"/><use xlink:href="#m" x="678.8" y="4138.7"/></g>
<g id="dic-3-1-1"><text class="t" x="704.2" y="4101.8">3.1.1 词频统计介绍</text><path class="u" d="M690.2,4109.3H826.7"/></g>
<g id="dic-3-1-2"><text class="t" x="704.2" y="4129.8">3.1.2 词频统计的实现思路</text><path class="u" d="M690.2,4137.3H865.1"/></g>
<g id="dic-3-1-3"><text class="t" x="704.2" y="4157.8">3.1.3 词频统计的实现</text><path class="u" d="M690.2,4165.3H839.3"/></g>
<g id="dic-3-1-4"><text class="t" x="704.2" y="4185.8">3.1.4 分类词频统计</text><path class="u" d="M690.2,4193.3H826.7"/></g>
<g id="dic-3-2"><text class="t" x="585.8" y="4227.8">3.2 字典与列表结合</text><path class="u" d="M571.8,4235.3H723.6"/><use xlink:href="#m" x="717.2" y="4222.7"/></g>
<g id="dic-3-2-1"><text class="t" x="742.6" y="4213.8">3.2.1 字典与列表结合应用场景举例</text><path class="u" d="M728.6,4221.3H957.2"/></g>
<g id="dic-3-2-2"><text class="t" x="742.6" y="4241.8">3.2.2 字典与列表结合的实际应用</text><path class="u" d="M728.6,4249.3H943.5"/></g>
</g>
</svg>
